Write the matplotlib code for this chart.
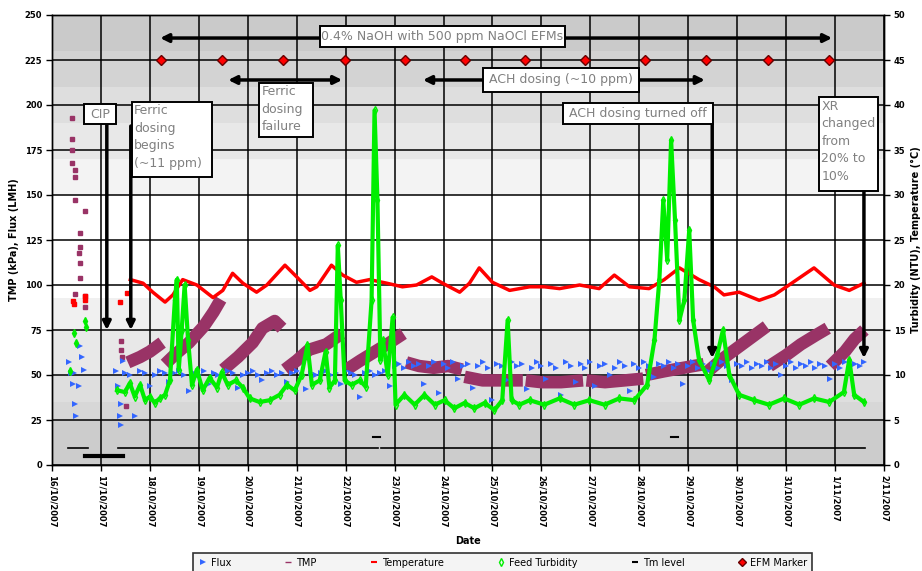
import numpy as np
import matplotlib
matplotlib.use("Agg")
import matplotlib.pyplot as plt
from matplotlib.lines import Line2D
from matplotlib.patches import Rectangle

# x axis: days counted from 16/10/2007
date_labels = ["16/10/2007", "17/10/2007", "18/10/2007", "19/10/2007",
               "20/10/2007", "21/10/2007", "22/10/2007", "23/10/2007",
               "24/10/2007", "25/10/2007", "26/10/2007", "27/10/2007",
               "28/10/2007", "29/10/2007", "30/10/2007", "31/10/2007",
               "1/11/2007", "2/11/2007"]

# Flux (LMH)
flux_early_days = [0.35, 0.38, 0.42, 0.45, 0.48, 0.50, 0.55, 0.58, 0.62, 0.65,
                   1.30, 1.35, 1.38, 1.40, 1.42, 1.45]
flux_early = [57, 51, 45, 51, 34, 27, 44, 66, 60, 53,
              52, 44, 27, 22, 34, 58]
flux_start, flux_step = 1.5, 0.1
flux = [51, 50, 27, 52, 51, 44, 50, 52, 51, 46,
        51, 52, 50, 41, 51, 50, 52, 45, 51, 50,
        50, 52, 51, 43, 50, 51, 52, 50, 47, 51,
        52, 50, 51, 46, 51, 52, 50, 42, 51, 50,
        51, 52, 50, 51, 45, 52, 51, 50, 38, 51,
        52, 50, 51, 52, 44, 55, 56, 54, 57, 55,
        56, 45, 55, 57, 40, 56, 54, 57, 48, 55,
        56, 43, 55, 57, 54, 36, 56, 55, 47, 57,
        55, 56, 42, 54, 57, 55, 48, 56, 54, 39,
        57, 55, 46, 56, 54, 57, 44, 55, 56, 50,
        54, 57, 55, 41, 56, 54, 57, 55, 49, 56,
        55, 57, 54, 56, 45, 55, 57, 54, 56, 52,
        56, 54, 57, 55, 47, 56, 55, 57, 54, 56,
        55, 57, 54, 56, 50, 55, 57, 54, 56, 55,
        57, 54, 56, 55, 48, 56, 54, 57, 55, 56,
        55, 57]

# TMP (kPa): scattered start-up readings, then one run per EFM cycle
tmp_early_days = [0.40, 0.40, 0.40, 0.41, 0.46, 0.46, 0.46, 0.67, 0.57, 0.57,
                  0.55, 0.57, 0.46, 0.67, 0.57, 0.67, 1.40, 1.40, 1.43, 1.52]
tmp_early = [193, 181, 175, 168, 164, 160, 147, 141, 129, 121,
             118, 112, 95, 94, 104, 88, 69, 64, 60, 33]
tmp_days = [1.55, 1.80, 2.00, 2.25, np.nan,
            2.31, 2.50, 2.80, 3.10, 3.30, 3.45, np.nan,
            3.50, 3.80, 4.10, 4.30, 4.55, 4.70, np.nan,
            4.76, 5.00, 5.25, 5.60, 5.92, np.nan,
            6.02, 6.30, 6.60, 6.90, 7.18, np.nan,
            7.24, 7.50, 7.80, 8.10, 8.38, np.nan,
            8.43, 8.80, 9.20, 9.62, np.nan,
            9.68, 10.00, 10.40, 10.85, np.nan,
            10.92, 11.30, 11.70, 12.08, np.nan,
            12.14, 12.50, 12.90, 13.32, np.nan,
            13.40, 13.70, 14.00, 14.30, 14.60, np.nan,
            14.66, 15.00, 15.30, 15.60, 15.85, np.nan,
            15.90, 16.20, 16.40, 16.60]
tmp = [57, 60, 63, 68, np.nan,
       56, 61, 68, 77, 85, 92, np.nan,
       53, 60, 68, 76, 80, 76, np.nan,
       53, 58, 64, 67, 73, np.nan,
       53, 58, 63, 68, 73, np.nan,
       57, 55, 54, 55, 53, np.nan,
       49, 47, 47, 47, np.nan,
       47, 46, 46, 47, np.nan,
       47, 46, 47, 48, np.nan,
       50, 52, 54, 56, np.nan,
       52, 59, 65, 71, 77, np.nan,
       55, 61, 67, 72, 76, np.nan,
       55, 63, 70, 75]

# Temperature (deg C, right axis)
temp_early_days = [0.43, 0.45, 0.67, 0.68, 1.39, 1.53]
temp_early = [18.2, 17.9, 18.8, 18.3, 18.1, 19.1]
temp_days = [1.60, 1.86, 2.06, 2.31, 2.47, 2.67, 2.96, 3.29, 3.49, 3.69,
             3.90, 4.18, 4.39, 4.76, 5.00, 5.27, 5.41, 5.71, 5.94, 6.22,
             6.49, 6.84, 7.16, 7.45, 7.76, 7.98, 8.33, 8.53, 8.73, 9.00,
             9.35, 9.76, 10.06, 10.37, 10.78, 11.18, 11.49, 11.80, 12.20, 12.51,
             12.82, 13.22, 13.53, 13.73, 14.04, 14.45, 14.76, 15.06, 15.57, 15.98,
             16.29, 16.59]
temp = [20.6, 20.2, 19.2, 18.1, 18.9, 20.6, 20.0, 18.6, 19.4, 21.3,
        20.2, 19.2, 20.0, 22.2, 20.9, 19.4, 19.8, 22.2, 21.1, 20.3,
        20.6, 20.2, 19.8, 20.0, 20.9, 20.2, 19.2, 20.2, 21.9, 20.3,
        19.4, 19.8, 19.8, 19.6, 20.0, 19.6, 21.1, 19.8, 19.6, 20.6,
        21.9, 20.6, 19.8, 18.9, 19.2, 18.3, 18.9, 20.0, 21.9, 20.0,
        19.4, 20.2]

# Feed turbidity (NTU, right axis)
turb_early_days = [0.37, 0.45, 0.50, 0.67, 0.70]
turb_early = [10.5, 14.7, 13.6, 16.0, 15.3]
turb_days = [1.33, 1.49, 1.59, 1.69, 1.80, 1.90, 2.00, 2.10, 2.20, 2.31,
             2.41, 2.51, 2.55, 2.59, 2.65, 2.71, 2.78, 2.86, 2.96, 3.08,
             3.22, 3.37, 3.47, 3.59, 3.76, 3.90, 4.04, 4.24, 4.45, 4.65,
             4.80, 4.96, 5.10, 5.22, 5.31, 5.47, 5.59, 5.67, 5.78, 5.84,
             5.90, 5.98, 6.12, 6.29, 6.41, 6.53, 6.59, 6.65, 6.71, 6.76,
             6.86, 6.96, 7.02, 7.20, 7.41, 7.61, 7.82, 8.02, 8.22, 8.43,
             8.63, 8.84, 9.04, 9.20, 9.31, 9.39, 9.55, 9.76, 10.06, 10.37,
             10.67, 10.98, 11.29, 11.59, 11.90, 12.16, 12.31, 12.41, 12.49, 12.57,
             12.65, 12.73, 12.82, 12.92, 13.02, 13.10, 13.22, 13.43, 13.59, 13.71,
             13.84, 14.04, 14.35, 14.65, 14.96, 15.27, 15.57, 15.88, 16.18, 16.29,
             16.39, 16.59]
turb = [8.3, 8.1, 9.1, 7.6, 8.9, 7.2, 7.6, 6.9, 7.4, 7.8,
        9.4, 18.3, 20.6, 10.6, 15.0, 20.0, 13.9, 8.9, 10.6, 8.3,
        9.7, 8.6, 10.3, 8.9, 9.4, 8.6, 7.4, 7.0, 7.2, 7.8,
        8.9, 8.3, 10.0, 13.3, 8.9, 9.4, 12.6, 8.6, 9.4, 24.4,
        18.3, 9.4, 8.9, 9.4, 8.7, 18.3, 39.4, 29.4, 11.7, 13.9,
        10.0, 16.4, 6.7, 7.8, 6.7, 7.8, 6.7, 7.2, 6.3, 6.9,
        6.3, 6.9, 6.1, 7.2, 16.1, 7.2, 6.7, 7.2, 6.7, 7.4,
        6.7, 7.2, 6.7, 7.4, 7.2, 8.9, 13.9, 20.6, 29.4, 22.8,
        36.1, 27.2, 16.1, 18.3, 26.1, 16.1, 11.7, 9.4, 12.2, 15.0,
        10.0, 7.8, 7.2, 6.7, 7.4, 6.7, 7.4, 7.0, 8.1, 11.7,
        7.8, 7.0]

# Membrane tank level
tm_days = [0.33, 0.74, np.nan, 1.35, 6.66, np.nan, 6.73, 16.61]
tm_level = [9.4, 9.4, np.nan, 9.4, 9.4, np.nan, 9.4, 9.4]
tm_low_days = [0.67, 1.45]
tm_low = [5.0, 5.0]
tm_dash_days = [[6.55, 6.70], [12.65, 12.80]]
tm_dash = [15.6, 15.6]

# EFM (enhanced flux maintenance) events
efm_days = [2.23, 3.47, 4.72, 5.99, 7.21, 8.44, 9.66, 10.89, 12.11, 13.36,
            14.63, 15.88]
efm_level = 225

# Background shading bands (left-axis units, bottom to top)
bg_edges = [0, 25, 35, 50, 75, 93, 150, 170, 190, 210, 230, 250]
bg_shade = [0.80, 0.84, 0.87, 0.91, 0.94, 1.0, 0.95, 0.91, 0.87, 0.83, 0.79]

C_FLUX = "#3366ff"
C_TMP = "#993366"
C_TEMP = "#ff0000"
C_TURB = "#00ee00"

fig = plt.figure(figsize=(9.22, 5.71), dpi=100)
ax = fig.add_axes([52 / 922, 106 / 571, 832 / 922, 450 / 571])
ax2 = ax.twinx()

x_max = len(date_labels) - 1
ax.set_xlim(0, x_max)
ax.set_ylim(0, 250)
ax2.set_ylim(0, 50)

rows = np.arange(0.5, 250, 1.0)
shade = np.array(bg_shade)[np.searchsorted(bg_edges, rows) - 1]
ax.imshow(shade[:, None], extent=[0, x_max, 0, 250], origin="lower",
          cmap="gray", vmin=0, vmax=1, aspect="auto",
          interpolation="nearest", zorder=0)

ax.set_axisbelow(True)
ax.grid(True, color="black", lw=1.1)

flux_days = flux_start + flux_step * np.arange(len(flux))
ax.plot(tmp_days, tmp, color=C_TMP, lw=9, solid_capstyle="butt", zorder=3)
ax.plot(tmp_early_days, tmp_early, ls="none", marker="s", ms=2.5,
        color=C_TMP, zorder=3)
ax.plot(flux_days, flux, ls="none", marker=">", ms=4.5, color=C_FLUX,
        mew=0, zorder=4)
ax.plot(flux_early_days, flux_early, ls="none", marker=">", ms=4.5,
        color=C_FLUX, mew=0, zorder=4)
ax.plot(tm_days, tm_level, color="black", lw=1.2, zorder=4)
ax.plot(tm_low_days, tm_low, color="black", lw=3, zorder=4)
for d, v in zip(tm_dash_days, tm_dash):
    ax.plot(d, [v, v], color="black", lw=1.5, zorder=4)

ax2.plot(temp_days, temp, color=C_TEMP, lw=2.5, zorder=3)
ax2.plot(temp_early_days, temp_early, ls="none", marker="s", ms=3,
         color=C_TEMP, zorder=3)
ax2.plot(turb_days, turb, color=C_TURB, lw=3, marker="d", ms=4,
         mfc="none", mew=1, zorder=4)
ax2.plot(turb_early_days, turb_early, ls="none", marker="d", ms=4,
         color=C_TURB, zorder=4)
ax2.plot(efm_days, [efm_level / 5] * len(efm_days), ls="none", marker="D",
         ms=5, color="#ff0000", mec="#660000", mew=1, zorder=5)

# axes styling
ax.set_xticks(np.arange(len(date_labels)))
ax.set_xticklabels(date_labels, rotation=-90, fontsize=6, fontweight="bold")
ax.set_yticks(np.arange(0, 251, 25))
ax2.set_yticks(np.arange(0, 51, 5))
for a in (ax, ax2):
    a.tick_params(direction="out", length=4, width=1, labelsize=6, pad=3)
    for lab in a.get_yticklabels():
        lab.set_fontweight("bold")
    for s in a.spines.values():
        s.set_linewidth(1)
ax.set_xlabel("Date", fontsize=7, fontweight="bold", labelpad=6)
ax.set_ylabel("TMP (kPa), Flux (LMH)", fontsize=7, fontweight="bold")
ax2.set_ylabel("Turbidity (NTU), Temperature (\u00b0C)", fontsize=7,
               fontweight="bold")

# event notes, drawn in left-axis units on top of everything
tr = ax.transData
note_kw = dict(color="#808080", fontsize=9, transform=tr, zorder=11,
               linespacing=1.45, va="top", ha="left")
center_kw = {**note_kw, "ha": "center", "va": "center"}


def note_box(x0, y0, x1, y1):
    ax2.add_patch(Rectangle((x0, y0), x1 - x0, y1 - y0, transform=tr,
                            fc="white", ec="black", lw=1.4, zorder=10,
                            clip_on=False))


def arrow(x0, y0, x1, y1, style="-|>"):
    ax2.annotate("", xy=(x1, y1), xytext=(x0, y0), xycoords=tr,
                 textcoords=tr, zorder=9,
                 arrowprops=dict(arrowstyle=style, color="black", lw=2.5,
                                 mutation_scale=12, shrinkA=0, shrinkB=0))


arrow(2.21, 237.2, 15.94, 237.2, "<|-|>")
note_box(5.48, 232.2, 10.48, 243.9)
ax2.text(7.98, 238.0, "0.4% NaOH with 500 ppm NaOCl EFMs", **center_kw)

arrow(3.60, 213.9, 5.93, 213.9, "<|-|>")
note_box(4.23, 182.2, 5.33, 212.2)
ax2.text(4.28, 211.0, "Ferric\ndosing\nfailure", **note_kw)

arrow(7.58, 213.9, 13.34, 213.9, "<|-|>")
note_box(8.81, 207.2, 11.99, 220.6)
ax2.text(10.40, 213.9, "ACH dosing (~10 ppm)", **center_kw)

arrow(1.12, 189.4, 1.12, 75)
note_box(0.65, 189.4, 1.31, 200.6)
ax2.text(0.98, 195.0, "CIP", **center_kw)

arrow(1.61, 188.3, 1.61, 75)
note_box(1.63, 160.0, 3.27, 201.7)
ax2.text(1.68, 200.5, "Ferric\ndosing\nbegins\n(~11 ppm)", **note_kw)

arrow(13.49, 189.4, 13.49, 59.4)
note_box(10.44, 189.4, 13.51, 201.1)
ax2.text(11.97, 195.2, "ACH dosing turned off", **center_kw)

arrow(16.59, 152.2, 16.59, 59.4)
note_box(15.67, 152.2, 16.88, 204.4)
ax2.text(15.72, 203.0, "XR\nchanged\nfrom\n20% to\n10%", **note_kw)

handles = [
    Line2D([], [], ls="none", marker=">", ms=4, color=C_FLUX, mew=0),
    Line2D([], [], ls="none", marker="_", ms=4, color=C_TMP),
    Line2D([], [], ls="none", marker="_", ms=4, color=C_TEMP, mew=1.5),
    Line2D([], [], ls="none", marker="d", ms=4, color=C_TURB, mfc="none"),
    Line2D([], [], ls="none", marker="_", ms=4, color="black", mew=1.5),
    Line2D([], [], ls="none", marker="D", ms=4, color="#ff0000",
           mec="#660000"),
]
labels = ["Flux", "TMP", "Temperature", "Feed Turbidity", "Tm level",
          "EFM Marker"]
leg = fig.legend(handles, labels, loc="upper left",
                 bbox_to_anchor=(193 / 922, 0.0, 619 / 922, 18 / 571),
                 mode="expand", ncol=6, fontsize=7, frameon=True,
                 fancybox=False, edgecolor="black", borderaxespad=0,
                 handlelength=1, handletextpad=0.3, borderpad=0.5)
leg.get_frame().set_facecolor("#f2f2f2")
leg.get_frame().set_linewidth(1.2)

fig.savefig("out.png", dpi=100)
